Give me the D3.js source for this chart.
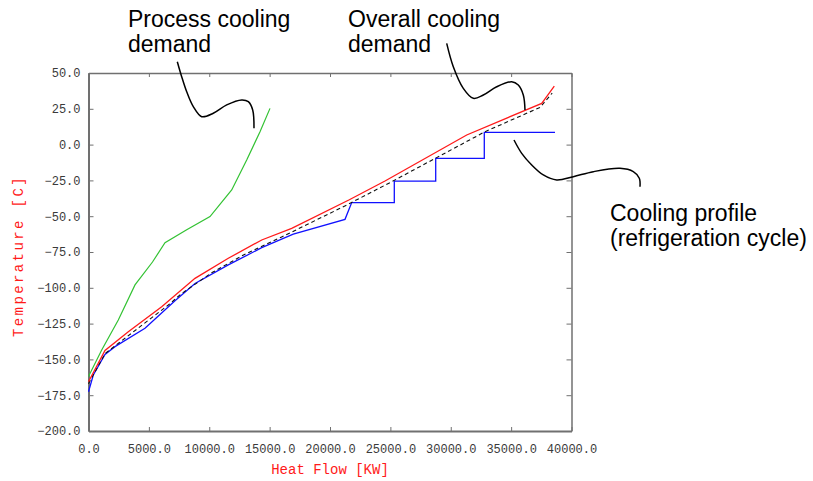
<!DOCTYPE html>
<html><head><meta charset="utf-8">
<script src="https://cdn.jsdelivr.net/npm/d3@7"></script>
<style>html,body{margin:0;padding:0;background:#fff;} svg{display:block;}</style>
</head><body><svg id="chart" width="813" height="481"></svg>
<script>
// ---- data (Heat flow in kW, temperature in °C) ----
const xTicks = [0, 5000, 10000, 15000, 20000, 25000, 30000, 35000, 40000];
const yTicks = [-200, -175, -150, -125, -100, -75, -50, -25, 0, 25, 50];
const xTitle = "Heat Flow [KW]";
const yTitle = "Temperature [C]";

// Process cooling demand (green)
const processQ = [0, 1093, 2468, 3851, 5300, 6335, 8133, 10062, 11859, 13101, 14203, 15031];
const processT = [-162, -143.4, -122.5, -98, -82, -68.5, -59.5, -50.3, -31.7, -10.8, 9, 25.3];

// Overall cooling demand (red)
const overallQ = [0, 1366, 3296, 6062, 8820, 11578, 14344, 16828, 21600, 24555, 31321, 37532, 38575];
const overallT = [-165.6, -143.8, -130.7, -113.2, -93.4, -79.4, -66.6, -58.5, -38.5, -25.4, 6.7, 28.8, 40.9];

// Composite curve (black dashed)
const compositeQ = [0, 1366, 2746, 6612, 7716, 10199, 12960, 16000, 21383, 25110, 32836, 37400, 38400];
const compositeT = [-167, -146, -137, -112, -104, -89.5, -76.5, -64.5, -42.2, -25.9, 9, 26, 36];

// Cooling profile, refrigeration cycle (blue)
const profileQ = [0, 397, 1366, 2195, 4679, 7163, 8820, 11578, 14344, 16960, 21242, 21797, 25325, 25325, 28754, 28754, 32778, 32778, 38633];
const profileT = [-172.6, -160.9, -146.5, -141.1, -128.3, -109, -97, -84, -72, -62.5, -52.2, -40.5, -40.5, -25.5, -25.5, -9.6, -9.6, 8.5, 8.5];

// Callout leader curves (in data units)
const note1Q = [7354, 7718, 8133, 8679, 9375, 10335, 11445, 12687, 13234, 13598, 13706];
const note1T = [57.9, 47.4, 36.9, 26.5, 19.5, 21.9, 27.7, 31.2, 30.0, 24.2, 11.4];
const note2Q = [29665, 30211, 31039, 31867, 32696, 33805, 35048, 35594, 36008, 36149];
const note2T = [70.7, 54.4, 39.3, 32.3, 34.6, 40.4, 43.9, 41.6, 34.6, 24.2];
const note3Q = [35238, 35876, 36704, 37665, 38774, 40149, 41805, 44017, 45118, 45615, 45673];
const note3T = [3.2, -6.1, -14.2, -21.2, -24.7, -22.4, -18.9, -16.6, -18.9, -23.5, -29.4];

const note1Text = ["Process cooling", "demand"];
const note2Text = ["Overall cooling", "demand"];
const note3Text = ["Cooling profile", "(refrigeration cycle)"];

// ---- drawing ----
const svg = d3.select("#chart");
svg.append("rect").attr("width", 813).attr("height", 481).attr("fill", "#fff");

const x = d3.scaleLinear().domain([0, 40000]).range([88.5, 571.5]);
const y = d3.scaleLinear().domain([-200, 50]).range([431, 73]);
const [x0, x1] = x.range();
const [y0, y1] = y.range();

const frameColor = "#707070";
const labelFont = "'Liberation Mono', 'DejaVu Sans Mono', monospace";

function styleAxis(g, width, showText) {
  g.select(".domain").attr("stroke", frameColor).attr("stroke-width", width);
  g.selectAll(".tick line").attr("stroke", frameColor).attr("stroke-width", 1);
  g.selectAll(".tick text").attr("fill", "#3a3a3a")
    .style("font-family", labelFont).style("font-size", "12px");
  if (!showText) g.selectAll(".tick text").remove();
}

const fmt = d3.format(".1f");

svg.append("g").attr("transform", `translate(0,${y1})`)
  .call(d3.axisTop(x).tickValues(xTicks).tickSizeInner(-4).tickSizeOuter(0))
  .call(g => styleAxis(g, 1.5, false));
svg.append("g").attr("transform", `translate(${x1},0)`)
  .call(d3.axisRight(y).tickValues(yTicks).tickSizeInner(-5).tickSizeOuter(0))
  .call(g => styleAxis(g, 1.5, false));
svg.append("g").attr("transform", `translate(0,${y0})`)
  .call(d3.axisBottom(x).tickValues(xTicks).tickFormat(fmt).tickSizeInner(-4).tickSizeOuter(0).tickPadding(13))
  .call(g => styleAxis(g, 2, true));
svg.append("g").attr("transform", `translate(${x0},0)`)
  .call(d3.axisLeft(y).tickValues(yTicks).tickFormat(fmt).tickSizeInner(-5).tickSizeOuter(0).tickPadding(8))
  .call(g => styleAxis(g, 2, true));

// axis titles
svg.append("text").attr("x", (x0 + x1) / 2).attr("y", 474)
  .attr("text-anchor", "middle").attr("fill", "#ff1a1a")
  .style("font-family", labelFont).style("font-size", "14px")
  .text(xTitle);
svg.append("text").attr("transform", `translate(23,256) rotate(-90)`)
  .attr("text-anchor", "middle").attr("fill", "#ff1a1a")
  .style("font-family", labelFont).style("font-size", "14px").style("letter-spacing", "2.4px")
  .text(yTitle);

// series
const line = d3.line().x(d => x(d[0])).y(d => y(d[1]));
const zip = (a, b) => a.map((v, i) => [v, b[i]]);

svg.append("path").datum(zip(processQ, processT))
  .attr("d", line).attr("fill", "none").attr("stroke", "#33c233").attr("stroke-width", 1.2);
svg.append("path").datum(zip(profileQ, profileT))
  .attr("d", line).attr("fill", "none").attr("stroke", "#1010ff").attr("stroke-width", 1.3);
svg.append("path").datum(zip(compositeQ, compositeT))
  .attr("d", line).attr("fill", "none").attr("stroke", "#111").attr("stroke-width", 1.1)
  .attr("stroke-dasharray", "4,3");
svg.append("path").datum(zip(overallQ, overallT))
  .attr("d", line).attr("fill", "none").attr("stroke", "#ff1a1a").attr("stroke-width", 1.3);

// callouts
const curve = d3.line().x(d => x(d[0])).y(d => y(d[1])).curve(d3.curveCatmullRom);
[[note1Q, note1T], [note2Q, note2T], [note3Q, note3T]].forEach(([q, t]) => {
  svg.append("path").datum(zip(q, t)).attr("d", curve)
    .attr("fill", "none").attr("stroke", "#000").attr("stroke-width", 1.5);
});

const noteFont = "'Liberation Sans', Arial, sans-serif";
function note(lines, px, py) {
  const t = svg.append("text").attr("fill", "#000")
    .style("font-family", noteFont).style("font-size", "23px");
  lines.forEach((s, i) => t.append("tspan").attr("x", px).attr("y", py + i * 24.5).text(s));
}
note(note1Text, 128, 27);
note(note2Text, 348, 27);
note(note3Text, 610, 221);
</script></body></html>
